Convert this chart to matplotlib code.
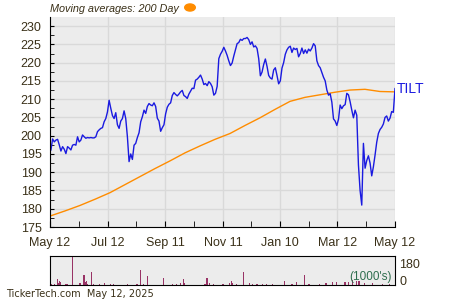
# TILT price chart with 200 day moving average and volume

# import libraries
import numpy as np
import pandas as pd
import matplotlib
matplotlib.use('Agg')
import matplotlib.pyplot as plt

# price readings (roughly every other day, May 2024 - May 2025)
price = [196.1, 199.1, 198.3, 198.8, 199.0, 197.5, 195.8, 197.0, 196.3, 195.1,
         197.0, 196.6, 196.1, 197.4, 197.6, 197.4, 199.7, 198.3, 198.8, 200.2,
         199.7, 199.3, 199.5, 199.4, 199.5, 199.4, 199.4, 199.7, 201.1, 201.6,
         202.0, 202.2, 203.8, 204.7, 206.5, 209.7, 207.5, 205.5, 204.7, 206.3,
         203.0, 202.0, 204.0, 204.7, 206.8, 204.7, 199.7, 192.9, 195.0, 193.5,
         197.4, 197.9, 199.5, 200.8, 203.8, 205.2, 207.0, 206.1, 208.0, 208.8,
         208.4, 208.2, 209.0, 208.0, 204.8, 204.0, 201.2, 202.2, 203.0, 206.0,
         207.8, 208.6, 209.0, 211.0, 211.8, 211.3, 210.9, 211.4, 212.0, 212.4,
         211.0, 210.7, 210.2, 211.4, 212.2, 213.0, 212.9, 215.2, 215.5, 216.0,
         216.6, 215.5, 214.0, 214.3, 213.7, 214.8, 214.3, 213.4, 211.1, 211.6,
         213.5, 221.1, 222.3, 223.1, 224.2, 223.2, 222.0, 220.5, 219.2, 219.9,
         221.8, 223.5, 225.2, 225.5, 226.4, 226.1, 226.6, 226.6, 226.9, 226.3,
         225.0, 225.7, 224.3, 224.6, 223.9, 221.1, 216.4, 217.4, 219.5, 221.0,
         219.0, 216.5, 215.8, 215.5, 218.0, 218.6, 216.5, 214.2, 215.0, 218.5,
         220.0, 222.3, 223.5, 224.2, 224.5, 222.8, 224.0, 223.6, 223.9, 221.6,
         222.5, 224.0, 222.5, 223.5, 222.6, 223.7, 223.2, 224.0, 225.2, 224.6,
         220.5, 219.2, 218.6, 217.3, 216.0, 215.0, 212.5, 211.1, 211.5, 209.2,
         204.6, 204.0, 202.8, 204.5, 208.4, 207.4, 208.2, 208.5, 211.6, 211.2,
         209.3, 207.0, 204.9, 207.0, 205.6, 192.0, 185.0, 181.0, 197.9, 191.1,
         193.2, 194.5, 192.5, 189.0, 191.5, 194.7, 198.2, 200.6, 201.7, 202.3,
         203.2, 205.0, 205.4, 204.0, 204.8, 206.6, 206.4, 212.9]

# 200 day moving average readings (evenly spaced over the year)
ma200 = [178.0, 179.4, 180.9, 182.6, 184.4, 186.6, 188.8, 191.0, 193.1, 195.3,
         197.2, 199.0, 200.6, 202.8, 204.9, 207.2, 209.4, 210.5, 211.2, 211.9,
         212.5, 212.7, 212.1, 212.0]

# volume (thousands of shares)
vol_dates = ['2024-05-13', '2024-05-17', '2024-05-20', '2024-05-21', '2024-05-22',
             '2024-05-23', '2024-05-29', '2024-05-30', '2024-06-05', '2024-06-12',
             '2024-06-13', '2024-06-17', '2024-06-18', '2024-06-20', '2024-06-21',
             '2024-06-25', '2024-06-27', '2024-07-03', '2024-07-09', '2024-07-15',
             '2024-07-18', '2024-08-02', '2024-08-12', '2024-08-16', '2024-08-19',
             '2024-08-23', '2024-09-09', '2024-09-19', '2024-09-23', '2024-09-27',
             '2024-09-30', '2024-10-01', '2024-10-23', '2024-10-25', '2024-10-28',
             '2024-11-01', '2024-11-11', '2024-11-18', '2024-11-20', '2024-11-21',
             '2024-11-25', '2024-12-03', '2024-12-09', '2024-12-12', '2024-12-17',
             '2024-12-23', '2024-12-27', '2025-01-02', '2025-01-15', '2025-01-23',
             '2025-01-28', '2025-02-05', '2025-02-10', '2025-02-21', '2025-02-28',
             '2025-03-07', '2025-03-11', '2025-03-20', '2025-03-24', '2025-03-28',
             '2025-04-01', '2025-04-04', '2025-04-10', '2025-04-18', '2025-04-29',
             '2025-05-06']
vol = [8, 5, 50, 14, 33, 22, 8, 8, 240, 14,
       19, 83, 22, 33, 8, 108, 8, 8, 16, 8,
       8, 8, 8, 124, 8, 75, 58, 8, 8, 14,
       50, 14, 8, 58, 16, 8, 8, 14, 30, 14,
       8, 110, 14, 8, 11, 8, 11, 8, 30, 8,
       22, 85, 8, 11, 16, 28, 22, 28, 22, 45,
       36, 30, 20, 14, 11, 8]

tick_dates = ['2024-05-12', '2024-07-12', '2024-09-11', '2024-11-11',
              '2025-01-10', '2025-03-12', '2025-05-12']
tick_labels = ['May 12', 'Jul 12', 'Sep 11', 'Nov 11', 'Jan 10', 'Mar 12', 'May 12']
ticker = 'TILT'

# build date axes
start = pd.Timestamp('2024-05-12')
end = pd.Timestamp('2025-05-12')
price_dates = pd.date_range('2024-05-13', end, periods=len(price))
ma_dates = pd.date_range(start, end, periods=len(ma200))
ticks = pd.to_datetime(tick_dates)
minor_ticks = ticks[:-1] + (ticks[1:] - ticks[:-1]) / 2

# colours
text_color = '#3a3018'
bg_color = '#ececec'
grid_color = '#d9d9d9'
line_color = '#1a1ae0'

plt.rcParams['font.family'] = ['Liberation Sans', 'DejaVu Sans']
fig = plt.figure(figsize=(4.5, 3), dpi=100)

# main price axes
ax = fig.add_axes([50/450, 1-227/300, 345/450, 210/300])
ax.set_facecolor(bg_color)
ax.plot(ma_dates, ma200, color='#ff8c00', lw=1)
ax.plot(price_dates, price, color=line_color, lw=1)
ax.set_xlim(start, end)
ax.set_ylim(175, 232.5)
ax.set_yticks(np.arange(175, 231, 5))
ax.set_yticks(np.arange(177.5, 232, 5), minor=True)
ax.set_xticks(ticks)
ax.set_xticklabels(tick_labels)
ax.set_xticks(minor_ticks, minor=True)
ax.grid(True, which='major', color=grid_color, lw=1)
ax.set_axisbelow(True)
for s in ['top', 'right']:
    ax.spines[s].set_visible(False)
ax.tick_params(which='both', direction='in', colors='black', labelcolor=text_color,
               labelsize=9, length=3)
ax.tick_params(axis='x', which='both', length=4, pad=7)
ax.tick_params(axis='y', pad=6)

ax.text(1.005, price[-1], ticker, transform=ax.get_yaxis_transform(),
        color=line_color, fontsize=10, va='center', ha='left')

# legend text at top
fig.text(50/450, 1-9/300, 'Moving averages: 200 Day', style='italic',
         fontsize=7.8, color=text_color, va='center', ha='left')
fig.patches.append(plt.Circle((190/450, 1-7.5/300), 5.3/450, color='#ff8c00',
                              transform=fig.transFigure, figure=fig))

# volume axes
axv = fig.add_axes([50/450, 1-285/300, 345/450, 29/300])
axv.set_facecolor(bg_color)
axv.bar(pd.to_datetime(vol_dates), vol, width=1.3, color='#993366')
axv.set_xlim(start, end)
axv.set_ylim(0, 240)
axv.set_xticks([])
axv.yaxis.tick_right()
axv.set_yticks([0, 180])
axv.set_yticklabels(['0', '180'])
axv.tick_params(length=0, labelsize=9, labelcolor=text_color, pad=3)
axv.get_yticklabels()[0].set_verticalalignment('baseline')
axv.text(0.99, 0.08, "(1000's)", transform=axv.transAxes, ha='right', va='bottom',
         fontsize=8.5, color='#2e6e4e')

# footer
fig.text(6/450, 1-294/300, 'TickerTech.com  May 12, 2025', fontsize=7,
         family='DejaVu Sans', color=text_color, va='center', ha='left')

fig.savefig('out.png', dpi=100)
